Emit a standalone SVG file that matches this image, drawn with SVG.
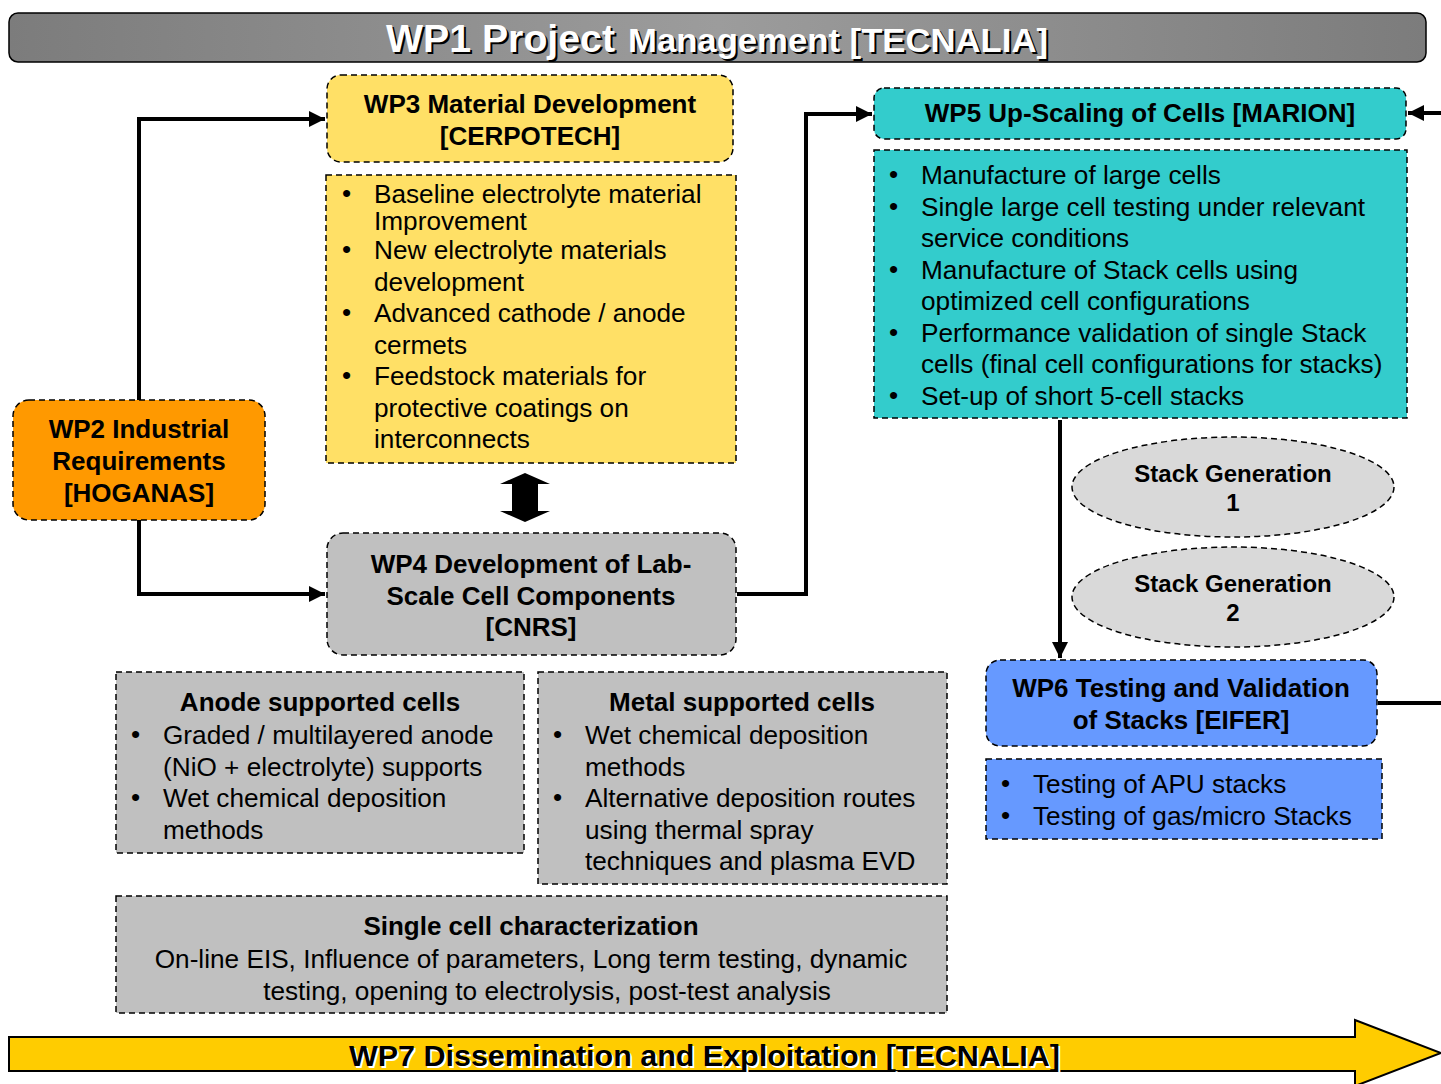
<svg xmlns="http://www.w3.org/2000/svg" width="1441" height="1084" viewBox="0 0 1441 1084">
  <style>
    text { font-family: "Liberation Sans", Arial, sans-serif; fill: #000; }
    .b { font-weight: bold; font-size: 26px; }
    .t { font-size: 26.2px; }
    .c { text-anchor: middle; }
    .box { stroke: #000; stroke-width: 1.5; stroke-dasharray: 6 4; }
    .wire { fill: none; stroke: #000; stroke-width: 4; }
  </style>
  <defs>
    <linearGradient id="wp1fill" x1="0" y1="0" x2="1" y2="0">
      <stop offset="0" stop-color="#7c7c7c"/>
      <stop offset="0.5" stop-color="#9c9c9c"/>
      <stop offset="1" stop-color="#7c7c7c"/>
    </linearGradient>
    <marker id="head" viewBox="0 0 10 10" refX="10" refY="5" markerWidth="16" markerHeight="16" markerUnits="userSpaceOnUse" orient="auto">
      <path d="M0,0 L10,5 L0,10 Z" fill="#000"/>
    </marker>
  </defs>

  <!-- WP1 banner -->
  <g id="wp1">
    <rect x="9" y="13" width="1417" height="49" rx="9" fill="url(#wp1fill)" stroke="#000" stroke-width="1.5"/>
    <text x="388" y="54" font-size="38" font-weight="bold" textLength="229" lengthAdjust="spacingAndGlyphs" style="fill:#000">WP1 Project</text>
    <text x="386" y="52" font-size="38" font-weight="bold" textLength="229" lengthAdjust="spacingAndGlyphs" style="fill:#fff">WP1 Project</text>
    <text x="630" y="54" font-size="33" font-weight="bold" textLength="420" lengthAdjust="spacingAndGlyphs" style="fill:#000">Management [TECNALIA]</text>
    <text x="628" y="52" font-size="33" font-weight="bold" textLength="420" lengthAdjust="spacingAndGlyphs" style="fill:#fff">Management [TECNALIA]</text>
  </g>

  <!-- connectors -->
  <g id="connectors">
    <polyline class="wire" points="139,400 139,119 325,119" marker-end="url(#head)"/>
    <polyline class="wire" points="139,520 139,594 325,594" marker-end="url(#head)"/>
    <polyline class="wire" points="737,594 806,594 806,114 872,114" marker-end="url(#head)"/>
    <line class="wire" x1="1441" y1="113" x2="1408" y2="113" marker-end="url(#head)"/>
    <line class="wire" x1="1060" y1="420" x2="1060" y2="658" marker-end="url(#head)"/>
    <line class="wire" x1="1378" y1="703" x2="1441" y2="703"/>
    <!-- two-way block arrow between WP3 and WP4 -->
    <polygon points="525,473 550,484 538,484 538,511 550,511 525,522 500,511 512,511 512,484 500,484" fill="#000"/>
  </g>

  <!-- WP3 -->
  <g id="wp3">
    <rect class="box" x="327" y="75" width="406" height="87" rx="14" fill="#ffe066"/>
    <text class="b c" x="530" y="113">WP3 Material Development</text>
    <text class="b c" x="530" y="145">[CERPOTECH]</text>
  </g>
  <g id="wp3-tasks">
    <rect class="box" x="326" y="175" width="410" height="288" fill="#ffe066"/>
    <text class="t" x="342" y="202">•</text>
    <text class="t" x="374" y="203">Baseline electrolyte material</text>
    <text class="t" x="374" y="230">Improvement</text>
    <text class="t" x="342" y="258">•</text>
    <text class="t" x="374" y="259">New electrolyte materials</text>
    <text class="t" x="374" y="291">development</text>
    <text class="t" x="342" y="321">•</text>
    <text class="t" x="374" y="322">Advanced cathode / anode</text>
    <text class="t" x="374" y="354">cermets</text>
    <text class="t" x="342" y="384">•</text>
    <text class="t" x="374" y="385">Feedstock materials for</text>
    <text class="t" x="374" y="417">protective coatings on</text>
    <text class="t" x="374" y="448">interconnects</text>
  </g>

  <!-- WP2 -->
  <g id="wp2">
    <rect class="box" x="13" y="400" width="252" height="120" rx="16" fill="#ff9900"/>
    <text class="b c" x="139" y="438">WP2 Industrial</text>
    <text class="b c" x="139" y="470">Requirements</text>
    <text class="b c" x="139" y="502">[HOGANAS]</text>
  </g>

  <!-- WP4 -->
  <g id="wp4">
    <rect class="box" x="327" y="533" width="409" height="122" rx="16" fill="#c0c0c0"/>
    <text class="b c" x="531" y="573">WP4 Development of Lab-</text>
    <text class="b c" x="531" y="605">Scale Cell Components</text>
    <text class="b c" x="531" y="636">[CNRS]</text>
  </g>

  <!-- WP5 -->
  <g id="wp5">
    <rect class="box" x="874" y="88" width="532" height="51" rx="10" fill="#33cccc"/>
    <text class="b c" x="1140" y="122">WP5 Up-Scaling of Cells [MARION]</text>
  </g>
  <g id="wp5-tasks">
    <rect class="box" x="874" y="150" width="533" height="268" fill="#33cccc"/>
    <text class="t" x="889" y="183">•</text>
    <text class="t" x="921" y="184">Manufacture of large cells</text>
    <text class="t" x="889" y="215">•</text>
    <text class="t" x="921" y="216">Single large cell testing under relevant</text>
    <text class="t" x="921" y="247">service conditions</text>
    <text class="t" x="889" y="278">•</text>
    <text class="t" x="921" y="279">Manufacture of Stack cells using</text>
    <text class="t" x="921" y="310">optimized cell configurations</text>
    <text class="t" x="889" y="341">•</text>
    <text class="t" x="921" y="342">Performance validation of single Stack</text>
    <text class="t" x="921" y="373">cells (final cell configurations for stacks)</text>
    <text class="t" x="889" y="404">•</text>
    <text class="t" x="921" y="405">Set-up of short 5-cell stacks</text>
  </g>

  <!-- stack generations -->
  <g id="stack-gen-1">
    <ellipse class="box" cx="1233" cy="487" rx="161" ry="50" fill="#d9d9d9"/>
    <text class="c" x="1233" y="482" font-size="24" font-weight="bold">Stack Generation</text>
    <text class="c" x="1233" y="511" font-size="24" font-weight="bold">1</text>
  </g>
  <g id="stack-gen-2">
    <ellipse class="box" cx="1233" cy="597" rx="161" ry="50" fill="#d9d9d9"/>
    <text class="c" x="1233" y="592" font-size="24" font-weight="bold">Stack Generation</text>
    <text class="c" x="1233" y="621" font-size="24" font-weight="bold">2</text>
  </g>

  <!-- WP6 -->
  <g id="wp6">
    <rect class="box" x="986" y="660" width="391" height="86" rx="14" fill="#6699ff"/>
    <text class="b c" x="1181" y="697">WP6 Testing and Validation</text>
    <text class="b c" x="1181" y="729">of Stacks [EIFER]</text>
  </g>
  <g id="wp6-tasks">
    <rect class="box" x="986" y="759" width="396" height="80" fill="#6699ff"/>
    <text class="t" x="1001" y="792">•</text>
    <text class="t" x="1033" y="793">Testing of APU stacks</text>
    <text class="t" x="1001" y="824">•</text>
    <text class="t" x="1033" y="825">Testing of gas/micro Stacks</text>
  </g>

  <!-- WP4 work areas -->
  <g id="anode-cells">
    <rect class="box" x="116" y="672" width="408" height="181" fill="#c0c0c0"/>
    <text class="b c" x="320" y="711">Anode supported cells</text>
    <text class="t" x="131" y="743">•</text>
    <text class="t" x="163" y="744">Graded / multilayered anode</text>
    <text class="t" x="163" y="776">(NiO + electrolyte) supports</text>
    <text class="t" x="131" y="806">•</text>
    <text class="t" x="163" y="807">Wet chemical deposition</text>
    <text class="t" x="163" y="839">methods</text>
  </g>
  <g id="metal-cells">
    <rect class="box" x="538" y="672" width="409" height="212" fill="#c0c0c0"/>
    <text class="b c" x="742" y="711">Metal supported cells</text>
    <text class="t" x="553" y="743">•</text>
    <text class="t" x="585" y="744">Wet chemical deposition</text>
    <text class="t" x="585" y="776">methods</text>
    <text class="t" x="553" y="806">•</text>
    <text class="t" x="585" y="807">Alternative deposition routes</text>
    <text class="t" x="585" y="839">using thermal spray</text>
    <text class="t" x="585" y="870">techniques and plasma EVD</text>
  </g>
  <g id="single-cell">
    <rect class="box" x="116" y="896" width="831" height="117" fill="#c0c0c0"/>
    <text class="b c" x="531" y="935">Single cell characterization</text>
    <text class="t c" x="531" y="968">On-line EIS, Influence of parameters, Long term testing, dynamic</text>
    <text class="t c" x="547" y="1000">testing, opening to electrolysis, post-test analysis</text>
  </g>

  <!-- WP7 arrow -->
  <g id="wp7">
    <polygon points="9,1037 1355,1037 1355,1020 1441,1053 1355,1086 1355,1071 9,1071" fill="#ffcc00" stroke="#000" stroke-width="2"/>
    <text x="351" y="1068" font-size="30" font-weight="bold" textLength="711" lengthAdjust="spacingAndGlyphs" style="fill:#fff">WP7 Dissemination and Exploitation [TECNALIA]</text>
    <text x="349" y="1066" font-size="30" font-weight="bold" textLength="711" lengthAdjust="spacingAndGlyphs">WP7 Dissemination and Exploitation [TECNALIA]</text>
  </g>
</svg>
